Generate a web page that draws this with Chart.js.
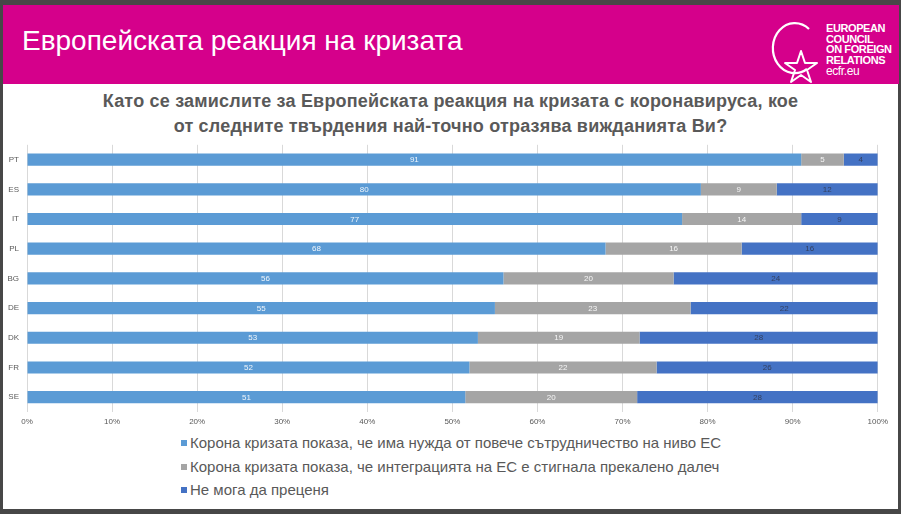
<!DOCTYPE html>
<html>
<head>
<meta charset="utf-8">
<script src="https://cdn.jsdelivr.net/npm/chart.js@4.4.1/dist/chart.umd.min.js"></script>
<style>
  html, body { margin: 0; padding: 0; }
  body { width: 901px; height: 514px; background: #474747; position: relative; overflow: hidden;
         font-family: "Liberation Sans", Arial, sans-serif; }
  #panel { position: absolute; left: 3px; top: 5px; width: 895px; height: 504px; background: #fff; }
  #header { position: absolute; left: 0; top: 0; width: 896px; height: 79px; background: #d5008b; }
  #header h1 { position: absolute; left: 19px; top: 20px; margin: 0; color: #fff;
               font-size: 28px; font-weight: normal; letter-spacing: 0; }
  #logo { position: absolute; left: 762px; top: 10px; }
  #title { position: absolute; left: 0; top: 84px; width: 895px; text-align: center;
           color: #595959; font-weight: bold; font-size: 18px; line-height: 25px; letter-spacing: 0.2px; }
  #chartBox { position: absolute; left: -3px; top: 127px; }
  #chartBox canvas { display: block; }
  #legend { position: absolute; left: 178px; top: 426px; color: #595959; font-size: 15px; }
  .item { height: 23.5px; line-height: 23.5px; white-space: nowrap; }
  .box { display: inline-block; width: 6px; height: 6px; margin-right: 3px; vertical-align: 2px; }
</style>
</head>
<body>
<div id="panel">
  <div id="header">
    <h1>Европейската реакция на кризата</h1>
    <svg id="logo" width="136" height="70" viewBox="0 0 136 70">
      <path d="M 42 54 A 22 25 0 1 1 44 14" fill="none" stroke="#fff" stroke-width="2.2"/>
      <polygon points="36,36 40,48 52,48 42,55 46,67 36,60 26,67 30,55 20,48 32,48"
               fill="none" stroke="#fff" stroke-width="2" stroke-linejoin="round"/>
      <g fill="#fff" font-family="Liberation Sans, Arial, sans-serif" font-size="11" font-weight="bold" letter-spacing="-0.4">
        <text x="61" y="17">EUROPEAN</text>
        <text x="61" y="27.5">COUNCIL</text>
        <text x="61" y="38">ON FOREIGN</text>
        <text x="61" y="48.5">RELATIONS</text>
        <text x="61" y="59.5" font-weight="normal" font-size="12">ecfr.eu</text>
      </g>
    </svg>
  </div>
  <div id="title">Като се замислите за Европейската реакция на кризата с коронавируса, кое<br>от следните твърдения най-точно отразява вижданията Ви?</div>
  <div id="chartBox"><canvas id="barChart" width="893" height="298"></canvas></div>
  <div id="legend"></div>
</div>
<script>
const countries = ["PT", "ES", "IT", "PL", "BG", "DE", "DK", "FR", "SE"];
const moreCooperation = [91, 80, 77, 68, 56, 55, 53, 52, 51];
const tooFar = [5, 9, 14, 16, 20, 23, 19, 22, 20];
const cannotSay = [4, 12, 9, 16, 24, 22, 28, 26, 28];
const seriesNames = [
  "Корона кризата показа, че има нужда от повече сътрудничество на ниво ЕС",
  "Корона кризата показа, че интеграцията на ЕС е стигнала прекалено далеч",
  "Не мога да преценя"
];
const xTicks = [0, 10, 20, 30, 40, 50, 60, 70, 80, 90, 100];

const rawSeries = [moreCooperation, tooFar, cannotSay];
const colors = ["#5b9bd5", "#a5a5a5", "#4472c4"];
const labelColors = ["rgba(255,255,255,0.9)", "rgba(255,255,255,0.9)", "rgba(45,45,60,0.75)"];

// 100% stacked: each row is scaled to its own total
const totals = countries.map((c, i) => rawSeries.reduce((s, arr) => s + arr[i], 0));
const asShare = arr => arr.map((v, i) => v / totals[i] * 100);

const barLabels = {
  id: "barLabels",
  afterDatasetsDraw(chart) {
    const ctx = chart.ctx;
    ctx.save();
    ctx.font = "8px 'Liberation Sans', Arial, sans-serif";
    ctx.textAlign = "center";
    ctx.textBaseline = "middle";
    chart.data.datasets.forEach((ds, i) => {
      chart.getDatasetMeta(i).data.forEach((bar, j) => {
        const p = bar.getCenterPoint();
        ctx.fillStyle = labelColors[i];
        ctx.fillText(rawSeries[i][j], p.x, p.y + 0.5);
      });
    });
    ctx.restore();
  }
};

const chart = new Chart(document.getElementById("barChart").getContext("2d"), {
  type: "bar",
  data: {
    labels: countries,
    datasets: rawSeries.map((arr, i) => ({
      label: seriesNames[i],
      data: asShare(arr),
      backgroundColor: colors[i],
      categoryPercentage: 1,
      barPercentage: 0.41
    }))
  },
  options: {
    indexAxis: "y",
    responsive: false,
    animation: false,
    layout: { padding: { top: 5, right: 11, left: 0, bottom: 0 } },
    scales: {
      x: {
        stacked: true,
        min: 0,
        max: 100,
        afterBuildTicks: s => { s.ticks = xTicks.map(v => ({ value: v })); },
        afterFit: s => { s.height = 18; },
        ticks: {
          color: "#595959",
          font: { size: 8, family: "'Liberation Sans', Arial, sans-serif" },
          padding: 5,
          maxRotation: 0,
          callback: v => v + "%"
        },
        grid: { color: "#d9d9d9", drawTicks: false },
        border: { display: false }
      },
      y: {
        stacked: true,
        afterFit: s => { s.width = 27; },
        ticks: {
          color: "#595959",
          font: { size: 8, family: "'Liberation Sans', Arial, sans-serif" },
          padding: 8
        },
        grid: { display: false, drawTicks: false },
        border: { display: false }
      }
    },
    plugins: {
      legend: { display: false },
      tooltip: { enabled: false }
    }
  },
  plugins: [barLabels]
});

const legend = document.getElementById("legend");
chart.data.datasets.forEach(ds => {
  const row = document.createElement("div");
  row.className = "item";
  const box = document.createElement("span");
  box.className = "box";
  box.style.background = ds.backgroundColor;
  row.appendChild(box);
  row.appendChild(document.createTextNode(ds.label));
  legend.appendChild(row);
});
</script>
</body>
</html>
